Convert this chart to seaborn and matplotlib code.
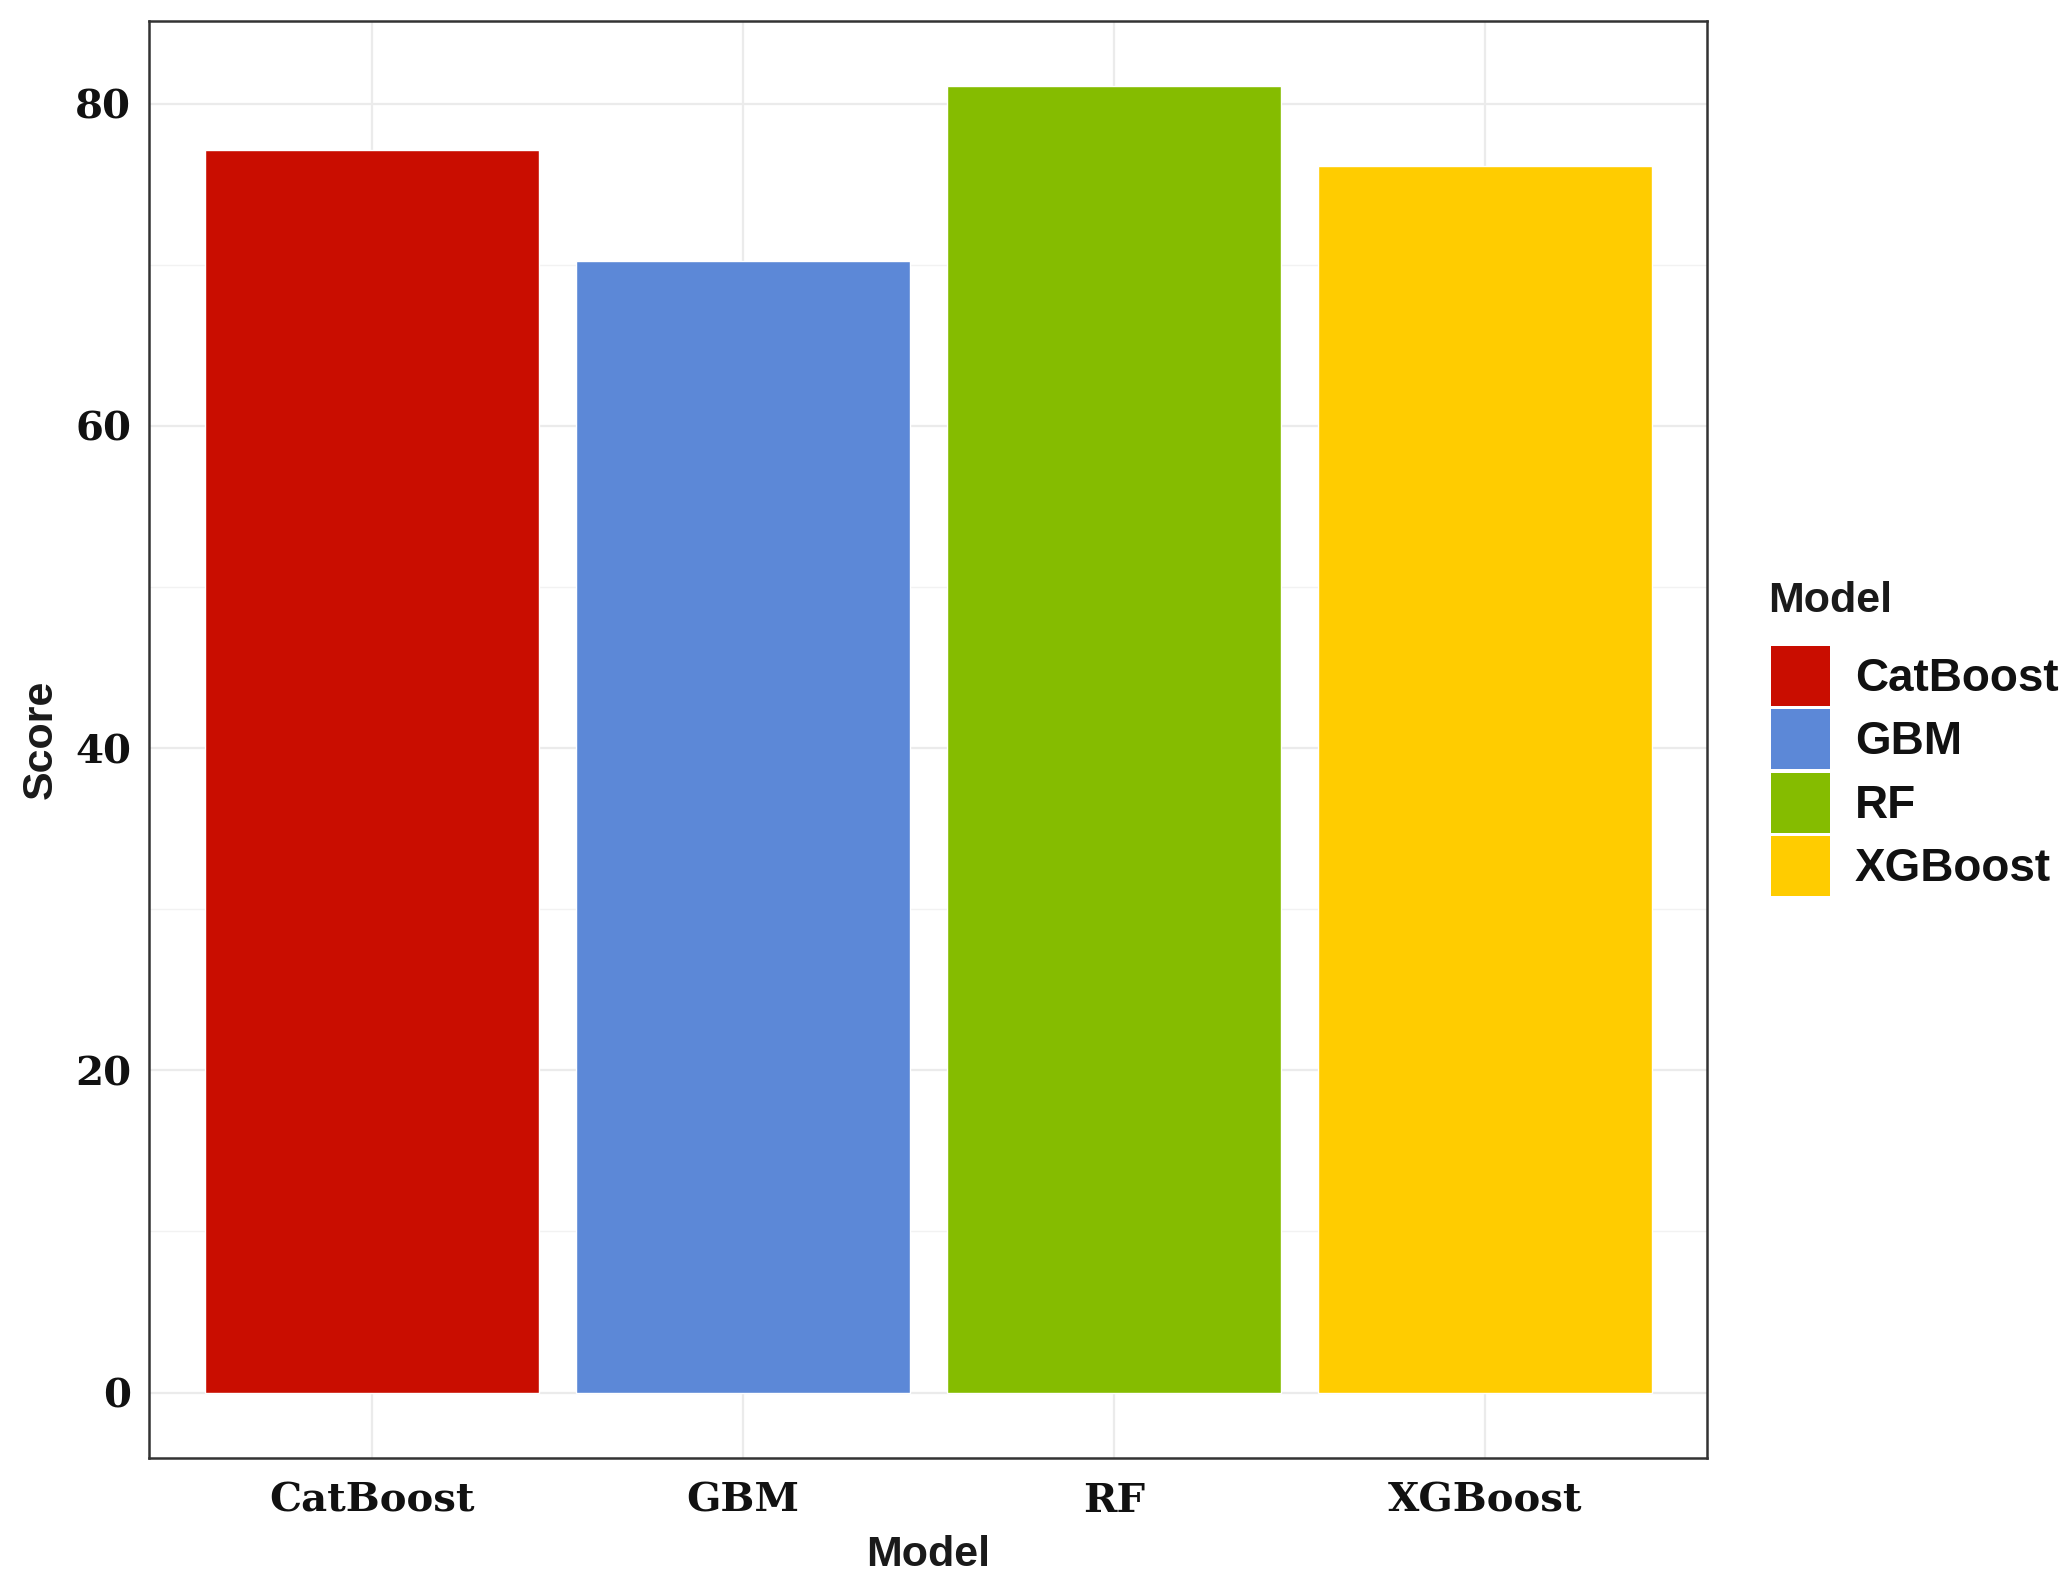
import numpy as np
import pandas as pd
import matplotlib
matplotlib.use('Agg')
import matplotlib.pyplot as plt
import seaborn as sns

# data
models = ["CatBoost", "GBM", "RF", "XGBoost"]
scores = [77.1, 70.2, 81.1, 76.1]
colors = ["#C90D00", "#5C88D7", "#85BC00", "#FFCC00"]
y_ticks = [0, 20, 40, 60, 80]
y_minor = [10, 30, 50, 70]

df = pd.DataFrame({"Model": models, "Score": scores})
palette = dict(zip(models, colors))

sns.set_style("white")
fig = plt.figure(figsize=(20.72, 15.77), dpi=100)
ax = fig.add_axes([0.072, 0.0755, 0.752, 0.9115])

sns.barplot(data=df, x="Model", y="Score", hue="Model", palette=palette,
            width=0.9, saturation=1, legend=True, ax=ax)

# ggplot-like expansion
top = max(scores)
ax.set_ylim(-0.05 * top, 1.05 * top)
ax.set_xlim(-0.6, len(models) - 0.4)

ax.set_yticks(y_ticks)
ax.set_yticks(y_minor, minor=True)
ax.set_axisbelow(True)
ax.grid(which='major', color='#EBEBEB', linewidth=1.6)
ax.grid(which='minor', axis='y', color='#F2F2F2', linewidth=1.0)

for sp in ax.spines.values():
    sp.set_visible(True)
    sp.set_color('#333333')
    sp.set_linewidth(1.8)

ax.tick_params(axis='both', which='both', length=0)
ax.tick_params(axis='y', pad=13)
ax.tick_params(axis='x', pad=17)
for lab in ax.get_xticklabels() + ax.get_yticklabels():
    lab.set_fontfamily('DejaVu Serif')
    lab.set_fontweight('bold')
    lab.set_fontsize(29)
    lab.set_color('#111111')

ax.set_xlabel("Model", fontsize=31, fontweight='bold', family='Liberation Sans',
              labelpad=11, color='#1A1A1A')
ax.set_ylabel("Score", fontsize=31, fontweight='bold', family='Liberation Sans',
              labelpad=10, color='#1A1A1A')

# legend: title as its own text, keys below it
handles, labels = ax.get_legend_handles_labels()
ax.get_legend().remove()
fig.text(1768 / 2072, 1 - 601 / 1577, "Model", ha='left', va='center',
         fontsize=31, fontweight='bold', family='Liberation Sans', color='#1A1A1A')
leg = fig.legend(handles, labels, loc='upper left',
                 bbox_to_anchor=(1771 / 2072, 1 - 646 / 1577),
                 frameon=False, borderpad=0, borderaxespad=0,
                 handlelength=1.28, handleheight=1.64, handletextpad=0.55,
                 labelspacing=0.07,
                 prop={'family': 'Liberation Sans', 'weight': 'bold', 'size': 33})
for h in leg.legend_handles:
    h.set_edgecolor('none')
for t in leg.get_texts():
    t.set_color('#111111')

plt.savefig("out.png", dpi=100)
plt.close()
